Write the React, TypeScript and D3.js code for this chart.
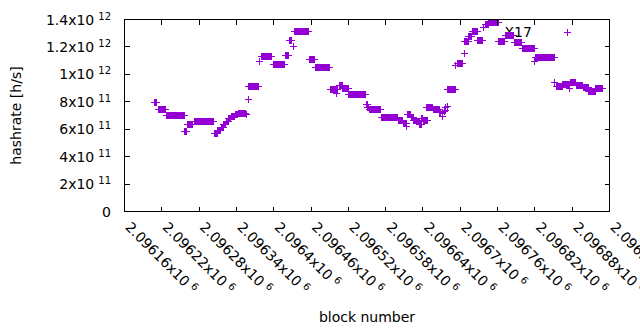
import * as d3 from 'd3';

// runs of consecutive blocks that share one hashrate value
const runFirstBlock = [
  2096208, 2096215, 2096228, 2096257, 2096261, 2096273, 2096304, 2096310, 2096316, 2096320,
  2096324, 2096328, 2096332, 2096338, 2096343, 2096356, 2096359, 2096360, 2096377, 2096380,
  2096399, 2096419, 2096425, 2096431, 2096433, 2096458, 2096467, 2096491, 2096501, 2096505,
  2096511, 2096521, 2096549, 2096551, 2096554, 2096574, 2096600, 2096608, 2096614, 2096615,
  2096621, 2096625, 2096630, 2096635, 2096638, 2096641, 2096646, 2096657, 2096667, 2096671,
  2096672, 2096674, 2096676, 2096677, 2096679, 2096679, 2096693, 2096695, 2096706, 2096707,
  2096714, 2096719, 2096728, 2096737, 2096741, 2096746, 2096762, 2096773, 2096787, 2096800,
  2096819, 2096821, 2096852, 2096855, 2096865, 2096872, 2096876, 2096877, 2096887, 2096898,
  2096907, 2096918,
];
const runLastBlock = [
  2096212, 2096226, 2096256, 2096259, 2096270, 2096303, 2096309, 2096315, 2096319, 2096323,
  2096327, 2096331, 2096337, 2096342, 2096354, 2096356, 2096359, 2096376, 2096377, 2096397,
  2096417, 2096424, 2096429, 2096431, 2096456, 2096466, 2096490, 2096503, 2096501, 2096510,
  2096520, 2096548, 2096550, 2096553, 2096572, 2096599, 2096607, 2096613, 2096614, 2096620,
  2096624, 2096629, 2096634, 2096637, 2096640, 2096647, 2096656, 2096666, 2096669, 2096671,
  2096672, 2096674, 2096676, 2096677, 2096679, 2096692, 2096693, 2096703, 2096706, 2096713,
  2096718, 2096727, 2096736, 2096737, 2096745, 2096761, 2096771, 2096786, 2096799, 2096819,
  2096819, 2096851, 2096852, 2096864, 2096875, 2096872, 2096876, 2096886, 2096897, 2096906,
  2096917, 2096929,
];
const runHashrate = [
  7.95e11, 7.44e11, 7.0e11, 5.83e11, 6.34e11, 6.56e11, 5.69e11, 5.91e11, 6.13e11, 6.34e11,
  6.56e11, 6.78e11, 6.93e11, 7.04e11, 7.18e11, 7.04e11, 8.18e11, 9.11e11, 1.097e12, 1.127e12,
  1.074e12, 1.1375e12, 1.247e12, 1.202e12, 1.3125e12, 1.105e12, 1.0515e12, 8.93e11, 8.64e11, 9.19e11,
  8.97e11, 8.55e11, 7.77e11, 7.58e11, 7.45e11, 6.876e11, 6.635e11, 6.43e11, 6.23e11, 7.04e11,
  6.82e11, 6.67e11, 6.53e11, 6.31e11, 6.78e11, 6.67e11, 7.6e11, 7.42e11, 7.2e11, 6.96e11,
  7.15e11, 7.29e11, 7.4e11, 7.55e11, 7.69e11, 8.93e11, 1.068e12, 1.081e12, 1.1535e12, 1.238e12,
  1.2746e12, 1.314e12, 1.2454e12, 1.34e12, 1.3657e12, 1.3767e12, 1.238e12, 1.284e12, 1.2338e12, 1.19e12,
  1.094e12, 1.1244e12, 9.41e11, 9.15e11, 9.26e11, 1.3016e12, 9.0e11, 9.41e11, 9.19e11, 9.04e11,
  8.75e11, 8.98e11,
];

const xTicks = [
  2096160, 2096220, 2096280, 2096340, 2096400, 2096460, 2096520,
  2096580, 2096640, 2096700, 2096760, 2096820, 2096880, 2096940,
];
const xTickLabels = [
  '2.09616', '2.09622', '2.09628', '2.09634', '2.0964', '2.09646', '2.09652',
  '2.09658', '2.09664', '2.0967', '2.09676', '2.09682', '2.09688', '2.09694',
];
const yTicks = [0, 2e11, 4e11, 6e11, 8e11, 1e12, 1.2e12, 1.4e12];
const yTickMantissa = ['0', '2', '4', '6', '8', '1', '1.2', '1.4'];
const yTickExponent = ['', '11', '11', '11', '11', '12', '12', '12'];

const labelText = 'X17';
const labelBlock = 2096771;
const labelValue = 1.27e12;

const W = 640;
const H = 330;
const left = 124.5;
const right = 609.5;
const top = 19.5;
const bottom = 211.5;
const color = '#9400d3';
const font = '"DejaVu Sans", sans-serif';

export default function App() {
  const x = d3.scaleLinear().domain([2096160, 2096940]).range([left, right]);
  const y = d3.scaleLinear().domain([0, 1.4e12]).range([bottom, top]);

  const points: [number, number][] = [];
  runFirstBlock.forEach((first, i) => {
    for (let b = first; b <= runLastBlock[i]; b++) points.push([b, runHashrate[i]]);
  });

  const s = 3.5;
  const marks = points
    .map(([b, v]) => {
      const cx = x(b);
      const cy = y(v);
      return `M${cx - s},${cy}h${2 * s}M${cx},${cy - s}v${2 * s}`;
    })
    .join('');

  const tick = 5;

  return (
    <svg
      width={W}
      height={H}
      style={{ position: 'absolute', left: 0, top: 0, background: '#fff' }}
      fontFamily={font}
      fontSize={14}
    >
      <rect width={W} height={H} fill="#fff" />

      {/* label sits under the points, as in the original plot */}
      <text x={x(labelBlock)} y={y(labelValue)} fill="#000">
        {labelText}
      </text>

      <path d={marks} stroke={color} strokeWidth={1} fill="none" shapeRendering="crispEdges" />

      <g stroke="#000" strokeWidth={1} shapeRendering="crispEdges">
        {xTicks.map((t) => (
          <g key={t}>
            <line x1={x(t)} x2={x(t)} y1={bottom} y2={bottom - tick} />
            <line x1={x(t)} x2={x(t)} y1={top} y2={top + tick} />
          </g>
        ))}
        {yTicks.map((t) => (
          <g key={t}>
            <line x1={left} x2={left + tick} y1={y(t)} y2={y(t)} />
            <line x1={right} x2={right - tick} y1={y(t)} y2={y(t)} />
          </g>
        ))}
        <rect x={left} y={top} width={right - left} height={bottom - top} fill="none" />
      </g>

      {yTicks.map((t, i) => (
        <text key={t} x={111} y={y(t) + 5} textAnchor="end" fill="#000">
          {yTickMantissa[i] + (yTickExponent[i] ? 'x10' : '')}
          {yTickExponent[i] && (
            <tspan dx={4} dy={-5} fontSize={10}>
              {yTickExponent[i]}
            </tspan>
          )}
        </text>
      ))}

      {xTicks.map((t, i) => (
        <text key={t} transform={`translate(${x(t)},228) rotate(45)`} fill="#000">
          {xTickLabels[i]}x10
          <tspan dx={4} dy={-5} fontSize={10}>
            6
          </tspan>
        </text>
      ))}

      <text transform={`translate(21,${(top + bottom) / 2}) rotate(-90)`} textAnchor="middle" fill="#000">
        hashrate [h/s]
      </text>
      <text x={(left + right) / 2} y={322} textAnchor="middle" fill="#000">
        block number
      </text>
    </svg>
  );
}
